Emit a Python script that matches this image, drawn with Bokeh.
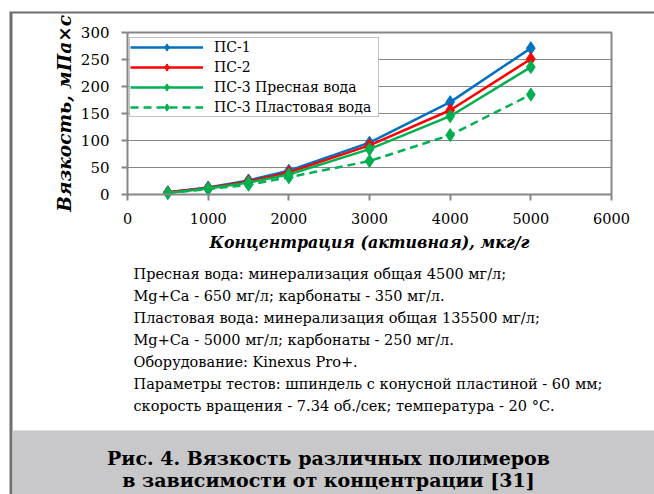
from bokeh.plotting import figure
from bokeh.models import Range1d, FixedTicker, Legend, LegendItem, LinearAxis
from bokeh.embed import file_html
from bokeh.resources import INLINE
from bokeh.core.properties import value

# ---------------- data ----------------
concentration = [500, 1000, 1500, 2000, 3000, 4000, 5000]
ps1 = [4, 13, 26, 44, 96, 171, 271]
ps2 = [4, 12, 24, 41, 91, 156, 251]
ps3_fresh = [3, 11, 22, 37, 84, 145, 236]
ps3_formation = [3, 10, 18, 32, 62, 110, 185]

series_names = ["ПС-1", "ПС-2", "ПС-3 Пресная вода", "ПС-3 Пластовая вода"]
x_ticks = [0, 1000, 2000, 3000, 4000, 5000, 6000]
y_ticks = [0, 50, 100, 150, 200, 250, 300]

notes = [
    "Пресная вода: минерализация общая 4500 мг/л;",
    "Mg+Ca - 650 мг/л; карбонаты - 350 мг/л.",
    "Пластовая вода: минерализация общая 135500 мг/л;",
    "Mg+Ca - 5000 мг/л; карбонаты - 250 мг/л.",
    "Оборудование: Kinexus Pro+.",
    "Параметры тестов: шпиндель с конусной пластиной - 60 мм;",
    "скорость вращения - 7.34 об./сек; температура - 20 °С.",
]
caption = ["Рис. 4. Вязкость различных полимеров",
           "в зависимости от концентрации [31]"]

# ---------------- layout / style ----------------
FONT = "DejaVu Serif"
GRAY = "#868686"
FRAME = "#6f6f6f"
PAGE_L, PAGE_T, PAGE_R, PAGE_B = 0, 0, 654, 494          # pixel box of the canvas
AREA_L, AREA_R, AREA_T, AREA_B = 127, 611, 32, 194        # plot area in pixels

X0, X1 = x_ticks[0], x_ticks[-1]
Y0, Y1 = y_ticks[0], y_ticks[-1]
kx = (AREA_R - AREA_L) / (X1 - X0)
ky = (AREA_B - AREA_T) / (Y1 - Y0)

p = figure(width=PAGE_R - PAGE_L, height=PAGE_B - PAGE_T,
           x_range=Range1d(PAGE_L, PAGE_R), y_range=Range1d(PAGE_B, PAGE_T),
           toolbar_location=None, output_backend="svg", title_location=None,
           x_axis_location=None, y_axis_location=None,
           min_border=0, min_border_left=0, min_border_right=0,
           min_border_top=0, min_border_bottom=0,
           background_fill_color="white", border_fill_color="white",
           outline_line_color=None)
p.grid.visible = False

p.extra_x_ranges = {"cx": Range1d(X0 - (AREA_L - PAGE_L) / kx, X1 + (PAGE_R - AREA_R) / kx)}
p.extra_y_ranges = {"cy": Range1d(Y0 - (PAGE_B - AREA_B) / ky, Y1 + (AREA_T - PAGE_T) / ky)}
D = dict(x_range_name="cx", y_range_name="cy")

# outer frame and caption band (page decoration)
p.quad(left=[9], right=[12], top=[12], bottom=[PAGE_B], fill_color=FRAME, line_color=None)
p.quad(left=[9], right=[PAGE_R], top=[11], bottom=[13], fill_color=FRAME, line_color=None)
p.quad(left=[12], right=[PAGE_R], top=[430], bottom=[PAGE_B], fill_color="#c8c8ca", line_color=None)

# gridlines and plot-area border
p.segment(x0=[X0] * len(y_ticks), x1=[X1] * len(y_ticks), y0=y_ticks, y1=y_ticks,
          line_color=GRAY, line_width=1, **D)
p.line(x=[X0, X1, X1], y=[Y1, Y1, Y0], line_color=GRAY, line_width=2, **D)

# axes
xaxis = LinearAxis(fixed_location=Y0, bounds=(X0, X1), ticker=FixedTicker(ticks=x_ticks),
                   axis_label="Концентрация (активная), мкг/г", **D)
yaxis = LinearAxis(fixed_location=X0, bounds=(Y0, Y1), ticker=FixedTicker(ticks=y_ticks),
                   axis_label="Вязкость, мПа×с", **D)
for ax in (xaxis, yaxis):
    ax.axis_line_color = GRAY
    ax.axis_line_width = 2
    ax.major_tick_line_color = GRAY
    ax.major_tick_line_width = 2
    ax.major_tick_out = 6
    ax.major_tick_in = 0
    ax.minor_tick_line_color = None
    ax.major_label_text_font = FONT
    ax.major_label_text_font_size = "15px"
    ax.major_label_text_color = "black"
    ax.axis_label_text_font = FONT
    ax.axis_label_text_font_style = "bold italic"
    ax.axis_label_text_color = "black"
xaxis.major_label_text_font_size = "14.5px"
xaxis.axis_label_text_font_size = "15.8px"
xaxis.major_label_standoff = 12
xaxis.axis_label_standoff = 6
yaxis.axis_label_text_font_size = "18.5px"
yaxis.major_label_standoff = 12
yaxis.axis_label_standoff = 3
p.add_layout(xaxis, "below")
p.add_layout(yaxis, "left")

# series
colors = ["#0070C0", "#FF0000", "#00B050", "#00B050"]
dashes = ["solid", "solid", "solid", "8 5"]
values = [ps1, ps2, ps3_fresh, ps3_formation]
items = []
for name, ys, c, d in zip(series_names, values, colors, dashes):
    ln = p.line(concentration, ys, line_color=c, line_width=2.5, line_dash=d, **D)
    mk = p.scatter(concentration, ys, marker="diamond", size=13,
                   fill_color=c, line_color=c, **D)
    items.append(LegendItem(label=name, renderers=[ln, mk]))

legend = Legend(items=items, location=(129 - PAGE_L, PAGE_B - 117), orientation="vertical",
                glyph_width=73, glyph_height=18, label_height=18, label_width=164,
                spacing=2, padding=0, margin=0, label_standoff=11,
                label_text_font=FONT, label_text_font_size="14px", label_text_color="black",
                border_line_color=GRAY, border_line_width=1,
                background_fill_color="white", background_fill_alpha=1)
p.add_layout(legend)

# notes and caption
note_y = [273 + 22 * i for i in range(len(notes))]
p.text(x=[133] * len(notes), y=note_y, text=notes, text_font=value(FONT),
       text_font_size="14.5px", text_baseline="middle", text_align="left", text_color="black")
p.text(x=[328, 328], y=[457, 479], text=caption, text_font=value(FONT),
       text_font_size="19px", text_font_style="bold", text_baseline="alphabetic",
       text_align="center", text_color="black")

open("out.html", "w").write(file_html(p, INLINE))
